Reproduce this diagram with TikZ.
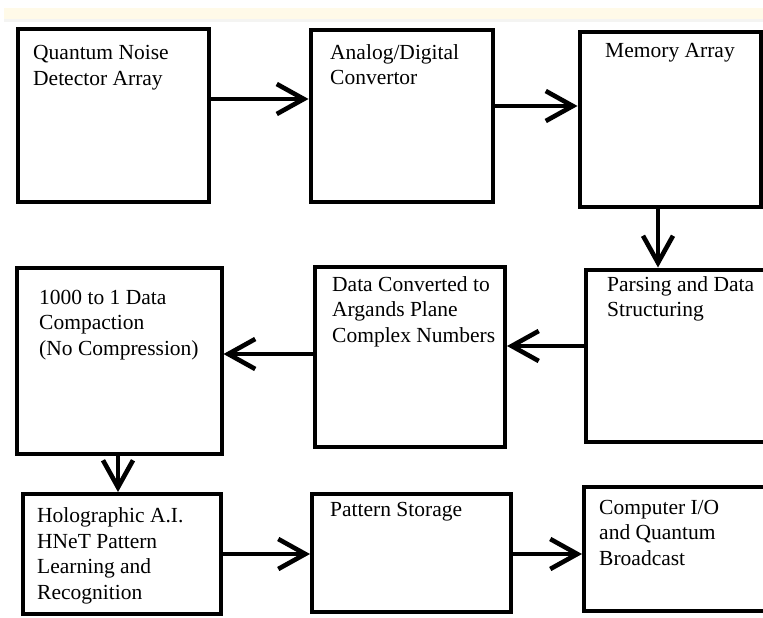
\documentclass[tikz,border=0pt]{standalone}
\usepackage{fontspec}
\setmainfont{Liberation Serif}
\usetikzlibrary{arrows.meta}
\definecolor{bandcream}{RGB}{255,250,232}
\definecolor{bandgrey}{RGB}{244,244,242}
\begin{document}
\begin{tikzpicture}[x=1pt,y=-1pt,
  box/.style={draw, line width=4pt, rectangle, inner sep=0pt},
  lbl/.style={anchor=north west, inner sep=0pt, align=left,
    font=\fontsize{21.5pt}{25.5pt}\selectfont},
  arr/.style={line width=4pt, -{Straight Barb[length=27pt,width=30pt,line width=4.6pt]}}]

\useasboundingbox (0,0) rectangle (763,618);
\clip (0,0) rectangle (763,618);
\fill[white] (0,0) rectangle (763,618);

% cream band along the top
\fill[bandcream] (4,8) rectangle (763,19.5);
\fill[bandgrey] (4,19.5) rectangle (763,22);

% blocks
\node[box, minimum width=191.5pt, minimum height=172.5pt] (b1) at (113.25,115.75) {};
\node[box, minimum width=182.5pt, minimum height=171.5pt] (b2) at (401.75,116.25) {};
\node[box, minimum width=181.5pt, minimum height=174.5pt] (b3) at (670.25,119.25) {};
\node[box, minimum width=194.5pt, minimum height=172.5pt] (b4) at (682.75,355.75) {};
\node[box, minimum width=190.5pt, minimum height=180.5pt] (b5) at (409.75,356.75) {};
\node[box, minimum width=205pt,   minimum height=186pt]   (b6) at (119,361) {};
\node[box, minimum width=197.5pt, minimum height=120pt]   (b7) at (121.75,554) {};
\node[box, minimum width=198.5pt, minimum height=118pt]   (b8) at (411.25,553) {};
\node[box, minimum width=196pt,   minimum height=123.5pt] (b9) at (682,548.75) {};

% block texts
\node[lbl] (t1) at (33,44)    {\rule{0pt}{15.5pt}Quantum Noise\\Detector Array};
\node[lbl] (t2) at (330,43.5) {\rule{0pt}{15.5pt}Analog/Digital\\Convertor};
\node[lbl] (t3) at (605,41.5) {\rule{0pt}{15.5pt}Memory Array};
\node[lbl] (t4) at (607,275.5){\rule{0pt}{15.5pt}Parsing and Data\\Structuring};
\node[lbl] (t5) at (332,275.5){\rule{0pt}{15.5pt}Data Converted to\\Argands Plane\\Complex Numbers};
\node[lbl] (t6) at (39,288.5) {\rule{0pt}{15.5pt}1000 to 1 Data\\Compaction\\(No Compression)};
\node[lbl] (t7) at (37,507)   {\rule{0pt}{15.5pt}Holographic A.I.\\HNeT Pattern\\Learning and\\Recognition};
\node[lbl] (t8) at (330,501)  {\rule{0pt}{15.5pt}Pattern Storage};
\node[lbl] (t9) at (599,498.5){\rule{0pt}{15.5pt}Computer I/O\\and Quantum\\Broadcast};

% connectors
\draw[arr] (b1.east |- 0,99)  -- (b2.west |- 0,99);
\draw[arr] (b2.east |- 0,106) -- (b3.west |- 0,106);
\draw[arr] (b3.south -| 658,0) -- (b4.north -| 658,0);
\draw[arr] (b4.west |- 0,346) -- (b5.east |- 0,346);
\draw[arr] (b5.west |- 0,354) -- (b6.east |- 0,354);
\draw[arr] (b6.south -| 118,0) -- (b7.north -| 118,0);
\draw[arr] (b7.east |- 0,554) -- (b8.west |- 0,554);
\draw[arr] (b8.east |- 0,554) -- (b9.west |- 0,554);
\end{tikzpicture}
\end{document}
